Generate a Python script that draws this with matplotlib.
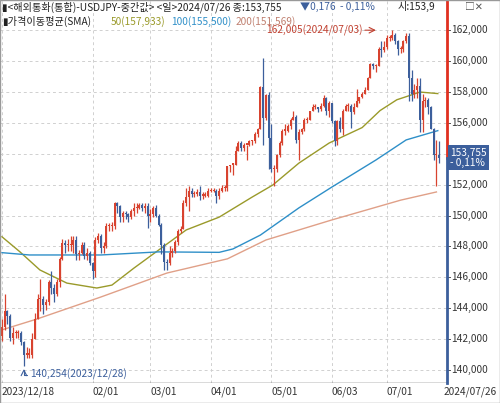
import matplotlib
matplotlib.use("Agg")
import matplotlib.pyplot as plt
import numpy as np
import pandas as pd

plt.rcParams['font.family'] = ['Noto Sans CJK KR', 'DejaVu Sans']

dates = pd.bdate_range("2023-12-18", "2024-07-26")
closes = [142.8,143.8,143.5,142.1,142.4,142.4,142.4,141.8,141.0,141.0,
 141.0,142.0,143.3,144.6,144.6,144.2,144.4,145.7,145.3,144.9,145.7,147.2,148.2,148.1,148.1,148.1,148.4,147.5,147.6,148.1,147.4,147.6,146.9,
 146.4,148.4,148.7,147.9,148.0,149.3,149.3,149.3,150.8,150.6,149.9,150.2,150.1,149.9,150.3,150.5,150.5,150.7,150.5,150.6,150.0,
 150.1,150.5,150.0,149.4,148.1,147.0,146.9,147.6,147.7,148.3,149.0,149.1,150.8,151.2,151.6,151.4,151.4,151.5,151.3,151.3,151.3,
 151.6,151.6,151.6,151.3,151.6,151.8,151.8,153.2,153.3,153.3,154.2,154.7,154.4,154.6,154.6,154.8,154.8,155.3,155.6,158.3,156.3,157.8,
 155.0,153.0,153.0,153.9,154.7,155.5,155.5,155.8,156.2,156.4,154.9,155.4,155.6,156.2,156.2,156.8,157.0,157.0,156.9,157.1,157.6,156.8,157.3,
 156.1,154.8,156.1,155.6,156.8,157.1,157.1,156.7,157.0,157.4,157.7,157.9,158.1,158.9,159.8,159.7,159.7,160.8,160.7,160.9,
 161.5,161.5,161.7,161.3,160.8,160.8,161.3,161.6,158.9,157.9,158.1,158.4,156.2,157.4,157.5,157.0,155.6,153.9,153.9,153.755]
first_open = 142.2
highs = [143.3,144.9,143.9,143.6,142.8,142.6,142.6,142.5,141.9,141.5,
 141.4,142.4,143.7,144.9,145.9,144.8,144.6,145.8,146.4,145.6,145.9,147.3,148.5,148.4,148.5,148.7,148.7,148.7,147.8,148.3,148.3,147.9,147.7,
 147.0,148.6,148.9,148.8,148.3,149.5,149.5,149.6,150.9,150.9,150.7,150.3,150.3,150.2,150.4,150.8,150.8,150.8,150.8,150.8,150.8,
 150.4,150.6,150.7,150.1,149.5,148.2,147.2,148.0,147.9,148.4,149.1,149.3,151.0,151.8,151.9,151.8,151.6,151.7,151.9,151.5,151.5,
 151.8,151.8,151.8,151.7,151.8,152.0,152.0,153.2,153.3,153.4,154.5,154.8,154.8,154.7,154.6,154.9,154.9,155.4,155.7,158.4,160.2,157.9,
 158.0,155.9,153.3,154.0,154.8,155.6,155.9,155.9,156.3,156.8,156.5,155.6,155.7,156.3,156.4,156.8,157.2,157.2,157.0,157.3,157.8,157.7,157.4,
 157.3,156.2,156.2,156.4,156.9,157.2,157.3,157.2,157.3,158.2,157.7,158.0,158.3,159.0,159.9,159.9,159.8,160.9,161.3,161.3,
 161.7,161.7,162.005,161.8,161.4,161.0,161.4,161.8,161.8,159.4,158.5,158.9,158.9,157.9,157.7,157.6,157.1,155.7,154.9,154.8]
lows = [141.9,142.6,143.0,141.9,141.7,142.1,142.1,141.6,140.254,140.8,
 140.8,140.8,142.1,143.5,143.8,143.6,143.9,144.2,144.9,144.4,144.8,145.4,147.1,147.6,147.7,147.7,147.6,147.1,147.1,147.5,147.2,147.1,146.8,
 145.9,146.0,148.2,147.6,147.6,147.9,149.0,149.0,149.1,150.2,149.6,149.6,149.8,149.6,149.8,150.0,150.2,150.4,150.3,150.2,149.2,
 149.6,149.9,149.9,149.3,147.5,146.5,146.5,146.8,147.3,147.6,148.1,148.9,149.1,150.6,150.3,151.2,151.2,151.3,151.0,151.1,151.2,
 151.2,151.5,151.5,150.8,151.1,151.5,151.6,151.6,152.8,152.6,153.3,154.2,154.2,154.2,153.6,154.5,154.6,154.7,155.1,155.6,154.6,156.2,
 153.0,152.8,151.9,152.8,153.8,154.6,155.2,155.4,155.6,156.2,154.7,153.6,155.3,155.5,156.0,156.2,156.8,156.9,156.7,156.8,157.0,156.5,156.4,
 156.0,154.5,154.6,155.4,155.2,156.8,156.8,155.7,156.6,157.0,157.3,157.6,157.9,158.1,158.9,159.5,159.3,159.7,160.3,160.6,
 160.8,161.3,161.4,161.1,160.4,160.5,160.6,161.2,157.4,157.4,157.6,157.6,155.4,155.4,157.0,156.6,155.6,153.6,151.9,153.4]

sma50_idx = [0,6.5,13.8,23.6,34.5,40,48,56,67,79,91,98.5,108,119,131,137.5,143.6,147,152,158.5]
sma50_val = [148.63,147.66,146.48,145.63,145.31,145.5,146.6,147.64,149.07,149.9,151.2,151.98,153.4,154.7,155.7,156.8,157.5,157.7,158.0,157.9]
sma100_idx = [0,10,36,57,79,84,94,108,120,136,147,158.5]
sma100_val = [147.6,147.45,147.45,147.65,147.62,147.84,148.74,150.5,151.85,153.6,154.9,155.5]
sma200_idx = [0,12.7,36,60,82,96,120,145,158]
sma200_val = [142.6,143.3,144.73,146.28,147.2,148.42,149.72,151.0,151.53]

tick_idx = [0,33,54,76,98,120,140]
tick_labels = ["2023/12/18","02/01","03/01","04/01","05/01","06/03","07/01"]
yticks = [140,142,144,146,148,150,152,154,156,158,160,162]

UP = "#d8432f"; DN = "#3c5f9c"
C50 = "#9a9a2a"; C100 = "#2e8fc8"; C200 = "#e0a088"

n = len(closes)
opens = [first_open] + closes[:-1]

fig = plt.figure(figsize=(5, 4.03), dpi=100)
ax = fig.add_axes([0, 20/403, 447/500, 383/403])
ax.set_xlim(-0.7, 447/2.75 - 0.7)
ymin, ymax = 139.16, 163.96
ax.set_ylim(ymin, ymax)

for yv in yticks:
    ax.axhline(yv, color="#d0d0d0", lw=0.7, ls=(0, (3, 3)), zorder=0)
for ti in tick_idx:
    ax.axvline(ti, color="#d0d0d0", lw=0.7, ls=(0, (3, 3)), zorder=0)

for i in range(n):
    o, c = opens[i], closes[i]
    col = UP if c >= o else DN
    h = max(highs[i], o, c); l = min(lows[i], o, c)
    ax.vlines(i, l, h, color=col, lw=0.9, zorder=3)
    b0, b1 = min(o, c), max(o, c)
    if b1 - b0 < 0.08:
        b1 = b0 + 0.08
    ax.add_patch(plt.Rectangle((i - 0.35, b0), 0.7, b1 - b0, color=col, lw=0, zorder=3))

ax.plot(sma50_idx, sma50_val, color=C50, lw=1.0, zorder=2)
ax.plot(sma100_idx, sma100_val, color=C100, lw=1.0, zorder=2)
ax.plot(sma200_idx, sma200_val, color=C200, lw=1.0, zorder=2)

ax.set_xticks([]); ax.set_yticks([])
for s in ax.spines.values():
    s.set_visible(False)
ax.axhline(ymin, color="#444444", lw=1.0)

last = closes[-1]
xr = ax.get_xlim()[1]
ax.plot([xr]*2, [last, ymax], color="#e03020", lw=2, clip_on=False, zorder=5)
ax.plot([xr]*2, [ymin, last], color="#3c5f9c", lw=2, clip_on=False, zorder=5)

for yv in yticks:
    ax.plot([xr, xr + 1.2], [yv, yv], color="#555555", lw=0.7, clip_on=False)
    if yv == 154:
        continue
    ax.text(xr + 1.6, yv, f"{yv},000", ha="left", va="center", fontsize=7.3, color="#333333", clip_on=False)
ax.text(xr + 1.2, last, "153,755\n- 0,11%", ha="left", va="center", fontsize=7.3, color="white",
        linespacing=1.0, clip_on=False, zorder=6,
        bbox=dict(boxstyle="square,pad=0.25", fc="#3c5f9c", ec="none"))

for ti, lab in zip(tick_idx, tick_labels):
    ax.text(ti, ymin - 0.25, lab, ha="left", va="top", fontsize=7.3, color="#333333", clip_on=False)
ax.text(xr + 8.5, ymin - 0.25, "2024/07/26", ha="center", va="top", fontsize=7.3, color="#333333", clip_on=False)

ax.annotate("", xy=(137, 162.005), xytext=(131, 162.005),
            arrowprops=dict(arrowstyle="->", color="#c04030", lw=0.8))
ax.text(131, 162.005, "162,005(2024/07/03)", ha="right", va="center", fontsize=7.3, color="#c04030")
ax.annotate("", xy=(8, 140.254), xytext=(10, 139.7),
            arrowprops=dict(arrowstyle="->", color="#3c5f9c", lw=0.8, connectionstyle="angle,angleA=0,angleB=90"))
ax.text(10.2, 139.7, "140,254(2023/12/28)", ha="left", va="center", fontsize=7.3, color="#3c5f9c")

fig.text(0.004, 0.983, "▮<해외통화(통합)-USDJPY-중간값> <일>2024/07/26 종:153,755 ", fontsize=7.3, color="#222222", va="center")
fig.text(0.60, 0.983, "▼0,176  - 0,11%", fontsize=7.3, color="#3c5f9c", va="center")
fig.text(0.795, 0.983, "시:153,9", fontsize=7.3, color="#222222", va="center")
fig.text(0.004, 0.947, "▮가격이동평균(SMA)", fontsize=7.3, color="#222222", va="center")
fig.text(0.222, 0.947, "50(157,933)", fontsize=7.3, color=C50, va="center")
fig.text(0.342, 0.947, "100(155,500)", fontsize=7.3, color=C100, va="center")
fig.text(0.472, 0.947, "200(151,569)", fontsize=7.3, color="#c08070", va="center")
fig.text(0.93, 0.983, "□✕", fontsize=7, color="#555555", va="center")

fig.patches.append(plt.Rectangle((0, 0), 1, 1, transform=fig.transFigure, fill=False, ec="#999999", lw=1))
fig.savefig("out.png", dpi=100)
